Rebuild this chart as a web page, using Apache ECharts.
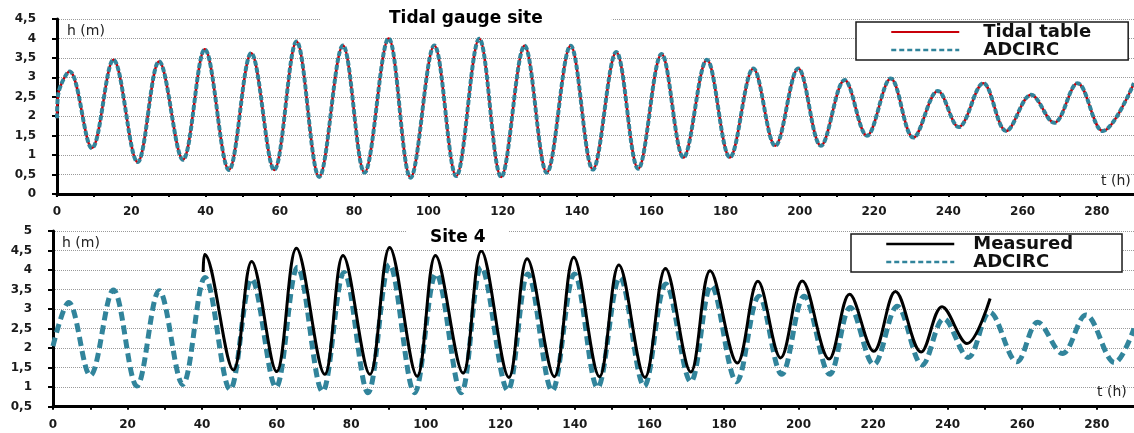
<!DOCTYPE html>
<html>
<head>
<meta charset="utf-8">
<script src="https://cdn.jsdelivr.net/npm/echarts@6/dist/echarts.min.js"></script>
<style>
  html, body { margin: 0; padding: 0; background: #fff; }
  #chart { width: 1134px; height: 433px; }
</style>
</head>
<body>
<div id="chart"></div>
<script>
// Tidal gauge site: high / low waters (t in hours, h in m)
const gaugeTimes = [0, 0.3, 3.4, 9.4, 15.2, 21.7, 27.5, 33.9, 39.8, 46.3, 52.3, 58.5, 64.5,
  70.6, 77, 82.8, 89.3, 95.2, 101.6, 107.5, 113.7, 119.6, 125.9,
  131.9, 138.3, 144.3, 150.6, 156.5, 162.8, 168.7, 175, 181.2, 187.5,
  193.4, 199.6, 205.7, 212.1, 218.1, 224.5, 230.6, 237.2, 242.8, 249.4,
  255.6, 262.3, 268.5, 274.8, 281.6, 290];
const gaugeTide = [1.95, 2.55, 3.15, 1.18, 3.45, 0.82, 3.41, 0.88, 3.72, 0.62, 3.62, 0.62, 3.92,
  0.44, 3.82, 0.55, 4.0, 0.42, 3.82, 0.46, 3.99, 0.44, 3.81,
  0.55, 3.81, 0.63, 3.65, 0.65, 3.6, 0.94, 3.45, 0.94, 3.23,
  1.24, 3.23, 1.24, 2.93, 1.5, 2.97, 1.45, 2.65, 1.72, 2.85,
  1.62, 2.55, 1.83, 2.85, 1.62, 2.85];
const gaugeAdcirc = [1.95, 2.55, 3.15, 1.18, 3.45, 0.82, 3.41, 0.88, 3.72, 0.62, 3.62, 0.62, 3.92,
  0.44, 3.82, 0.55, 4.0, 0.42, 3.82, 0.46, 3.99, 0.44, 3.81,
  0.55, 3.81, 0.63, 3.65, 0.65, 3.6, 0.94, 3.45, 0.94, 3.23,
  1.24, 3.23, 1.24, 2.93, 1.5, 2.97, 1.45, 2.65, 1.72, 2.85,
  1.62, 2.55, 1.83, 2.85, 1.62, 2.85];

// Site 4
const site4AdcircTimes = [0, 4.2, 10, 16.2, 22.5, 28.5, 34.8, 40.8, 47.5, 53.3,
  59.8, 65.6, 72.3, 78.1, 84.5, 90.3, 97, 102.8, 109.5, 114.9,
  122, 127.4, 133.9, 139.9, 146.1, 152.1, 158.6, 164.4, 171.1, 176.6,
  183.4, 189.4, 195.5, 201.5, 208.4, 213.9, 220.2, 226.5, 233.2, 239,
  245.5, 251.3, 258.6, 264.2, 270.8, 277.1, 284.8, 290];
const site4Adcirc = [2.05, 3.17, 1.3, 3.49, 1.03, 3.47, 1.07, 3.81, 0.94, 3.77,
  1.0, 4.07, 0.89, 3.94, 0.86, 4.14, 0.86, 3.9, 0.86, 4.07,
  0.92, 3.9, 0.91, 3.9, 0.99, 3.81, 1.03, 3.64, 1.14, 3.6,
  1.14, 3.33, 1.33, 3.33, 1.33, 3.04, 1.58, 3.07, 1.57, 2.75,
  1.76, 2.92, 1.65, 2.66, 1.86, 2.85, 1.63, 2.5];
const site4MeasTimes = [40.3, 40.7, 48.4, 53.3, 60, 65.3, 72.9, 77.8, 85, 90.3,
  97.7, 102.6, 110, 114.9, 122.3, 127.2, 134.5, 139.7, 146.6, 151.8,
  158.8, 164.3, 171.1, 176.3, 183.6, 189.1, 195.2, 201, 208.2, 213.7,
  220.2, 226, 232.9, 238.5, 245.2, 251.4];
const site4Measured = [3.95, 4.4, 1.44, 4.22, 1.4, 4.56, 1.33, 4.37, 1.33, 4.58,
  1.28, 4.37, 1.36, 4.49, 1.25, 4.29, 1.27, 4.33, 1.27, 4.13,
  1.25, 4.04, 1.39, 3.98, 1.62, 3.71, 1.75, 3.72, 1.72, 3.38,
  1.92, 3.45, 1.9, 3.06, 2.12, 3.27];

const FONT = "DejaVu Sans";
const RED = "#c8000a";
const TEAL = "#31849b";

const pairs = (ts, hs) => ts.map((t, i) => [t, hs[i]]);

const chart = echarts.init(document.getElementById("chart"));

const xAxisBase = (gridIndex) => ({
  type: "value",
  gridIndex,
  min: 0,
  max: 290,
  interval: 10,
  axisLine: { lineStyle: { color: "#000", width: 3 } },
  axisTick: { show: true, length: 3, lineStyle: { color: "#000", width: 2 } },
  axisLabel: {
    margin: 12,
    fontFamily: FONT,
    fontWeight: "bold",
    fontSize: 12,
    color: "#1a1a1a",
    showMaxLabel: false,
    formatter: (v) => (v % 20 === 0 ? String(v) : ""),
  },
  splitLine: { show: false },
});

const yAxisBase = (gridIndex, min, max) => ({
  type: "value",
  gridIndex,
  min,
  max,
  interval: 0.5,
  axisLine: { show: true, lineStyle: { color: "#000", width: 3 } },
  axisTick: { show: true, length: 5, lineStyle: { color: "#000", width: 2 } },
  axisLabel: {
    margin: 21,
    fontFamily: FONT,
    fontWeight: "bold",
    fontSize: 12,
    color: "#1a1a1a",
    formatter: (v) => String(v).replace(".", ","),
  },
  splitLine: { show: true, lineStyle: { color: "#9a9a9a", width: 1, type: "dotted" } },
});

const legendText = (padLeft) => ({
  fontFamily: FONT,
  fontWeight: "bold",
  fontSize: 18,
  color: "#111",
  padding: [0, 0, 0, padLeft],
});

// legend entry: line only, no marker
const legendItem = (name, color, width, type) => ({
  name,
  itemStyle: { opacity: 0 },
  lineStyle: { color, width, type },
});

const option = {
  animation: false,
  backgroundColor: "#fff",
  title: [
    {
      text: "Tidal gauge site",
      left: 320,
      top: 7,
      padding: [2, 69],
      backgroundColor: "#fff",
      textStyle: { fontFamily: FONT, fontWeight: "bold", fontSize: 17, color: "#000", lineHeight: 20 },
    },
    {
      text: "Site 4",
      left: 407,
      top: 226,
      padding: [2, 23],
      backgroundColor: "#fff",
      textStyle: { fontFamily: FONT, fontWeight: "bold", fontSize: 17, color: "#000", lineHeight: 20 },
    },
  ],
  legend: [
    {
      orient: "vertical",
      left: 856,
      top: 22,
      padding: [1, 37, 1, 34],
      itemWidth: 68,
      itemHeight: 14,
      itemGap: 0,
      backgroundColor: "#fff",
      borderColor: "#1a1a1a",
      borderWidth: 1.5,
      borderRadius: 0,
      textStyle: legendText(19),
      data: [
        legendItem("Tidal table", RED, 2, "solid"),
        legendItem("ADCIRC", TEAL, 2.5, [5, 3]),
      ],
    },
    {
      orient: "vertical",
      left: 851,
      top: 234,
      padding: [1, 49, 1, 34],
      itemWidth: 68,
      itemHeight: 14,
      itemGap: 0,
      backgroundColor: "#fff",
      borderColor: "#1a1a1a",
      borderWidth: 1.5,
      borderRadius: 0,
      textStyle: legendText(14),
      data: [
        legendItem("Measured", "#000", 2.5, "solid"),
        legendItem("ADCIRC", TEAL, 2.5, [5, 3]),
      ],
    },
  ],
  grid: [
    { left: 57, top: 19, width: 1080.5, height: 175 },
    { left: 53, top: 231, width: 1083, height: 175.7 },
  ],
  xAxis: [xAxisBase(0), xAxisBase(1)],
  yAxis: [yAxisBase(0, 0, 4.5), yAxisBase(1, 0.5, 5)],
  graphic: [
    { type: "text", left: 67, top: 24, style: { text: "h (m)", font: "14px 'DejaVu Sans'", fill: "#222" } },
    { type: "text", left: 1101, top: 174, style: { text: "t (h)", font: "14px 'DejaVu Sans'", fill: "#222" } },
    { type: "text", left: 62, top: 236, style: { text: "h (m)", font: "14px 'DejaVu Sans'", fill: "#222" } },
    { type: "text", left: 1097, top: 385, style: { text: "t (h)", font: "14px 'DejaVu Sans'", fill: "#222" } },
  ],
  series: [
    {
      name: "Tidal table",
      type: "line",
      xAxisIndex: 0,
      yAxisIndex: 0,
      data: pairs(gaugeTimes, gaugeTide),
      smooth: 0.36,
      symbol: "none",
      lineStyle: { color: RED, width: 2.5 },
      itemStyle: { color: RED },
      z: 2,
    },
    {
      name: "ADCIRC",
      type: "line",
      xAxisIndex: 0,
      yAxisIndex: 0,
      data: pairs(gaugeTimes, gaugeAdcirc),
      smooth: 0.36,
      symbol: "none",
      lineStyle: { color: TEAL, width: 4, type: [5, 2] },
      itemStyle: { color: TEAL },
      z: 3,
    },
    {
      name: "ADCIRC",
      type: "line",
      xAxisIndex: 1,
      yAxisIndex: 1,
      data: pairs(site4AdcircTimes, site4Adcirc),
      smooth: 0.36,
      symbol: "none",
      lineStyle: { color: TEAL, width: 5, type: [9, 5] },
      itemStyle: { color: TEAL },
      z: 2,
    },
    {
      name: "Measured",
      type: "line",
      xAxisIndex: 1,
      yAxisIndex: 1,
      data: pairs(site4MeasTimes, site4Measured),
      smooth: 0.36,
      symbol: "none",
      lineStyle: { color: "#000", width: 3 },
      itemStyle: { color: "#000" },
      z: 3,
    },
  ],
};

chart.setOption(option);
</script>
</body>
</html>
